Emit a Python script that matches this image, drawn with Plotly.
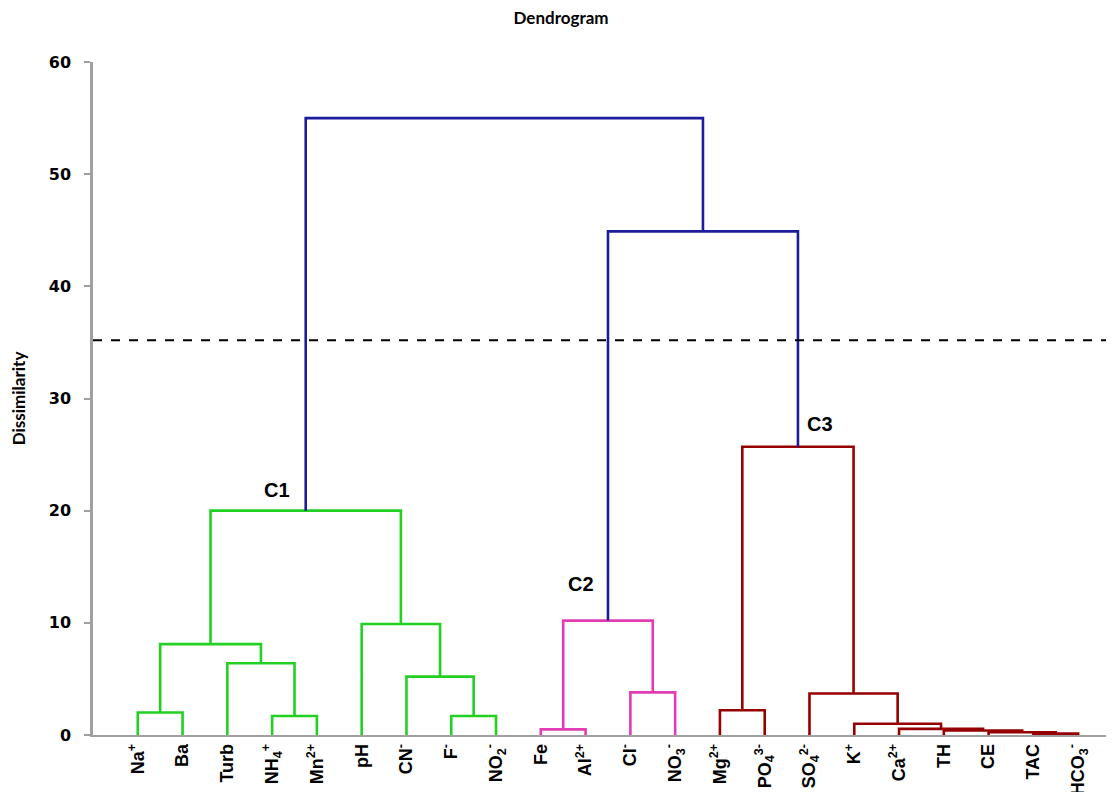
import plotly.graph_objects as go

# leaves, left to right
leaf_labels = ["Na<sup>+</sup>", "Ba", "Turb", "NH<sub>4</sub><sup>+</sup>", "Mn<sup>2+</sup>",
               "pH", "CN<sup>-</sup>", "F<sup>-</sup>", "NO<sub>2</sub><sup>-</sup>",
               "Fe", "Al<sup>2+</sup>", "Cl<sup>-</sup>", "NO<sub>3</sub><sup>-</sup>",
               "Mg<sup>2+</sup>", "PO<sub>4</sub><sup>3-</sup>", "SO<sub>4</sub><sup>2-</sup>",
               "K<sup>+</sup>", "Ca<sup>2+</sup>", "TH", "CE", "TAC", "HCO<sub>3</sub><sup>-</sup>"]

# linkage (scipy style: new node ids start at len(leaf_labels))
merge_left = [20, 19, 18, 9, 17, 16, 3, 7, 0, 13, 15, 11, 6, 2, 30, 5, 25, 36, 31, 38, 39]
merge_right = [21, 22, 23, 10, 24, 26, 4, 8, 1, 14, 27, 12, 29, 28, 35, 34, 33, 37, 32, 40, 41]
merge_height = [0.12, 0.25, 0.4, 0.5, 0.55, 1.0, 1.7, 1.7, 2.0, 2.2, 3.7, 3.8, 5.2, 6.4,
                8.1, 9.9, 10.2, 20.0, 25.7, 44.9, 55.0]

cut_height = 35.2
cluster_names = ["C1", "C2", "C3"]
cluster_colors = ["#22d022", "#e03cb4", "#960000"]
above_cut_color = "#1c1c9c"

n = len(leaf_labels)
pos = {i: float(i) for i in range(n)}
hgt = {i: 0.0 for i in range(n)}
children = {}
for k, (a, b, h) in enumerate(zip(merge_left, merge_right, merge_height)):
    node = n + k
    children[node] = (a, b)
    pos[node] = (pos[a] + pos[b]) / 2
    hgt[node] = h
root = n + len(merge_height) - 1

# find cluster roots below the cut, left to right
cluster_roots = []
def find_roots(node):
    if hgt[node] < cut_height:
        cluster_roots.append(node)
        return
    a, b = children[node]
    find_roots(a)
    find_roots(b)
find_roots(root)

node_color = {}
def paint(node, color):
    if node in children:
        node_color[node] = color
        for c in children[node]:
            paint(c, color)
for i, r in enumerate(cluster_roots):
    paint(r, cluster_colors[i])
for node in children:
    if hgt[node] >= cut_height:
        node_color[node] = above_cut_color

fig = go.Figure()

for color in cluster_colors + [above_cut_color]:
    xs, ys = [], []
    for node, (a, b) in children.items():
        if node_color[node] != color:
            continue
        xs += [pos[a], pos[a], pos[b], pos[b], None]
        ys += [hgt[a], hgt[node], hgt[node], hgt[b], None]
    fig.add_trace(go.Scatter(x=xs, y=ys, mode="lines",
                             line=dict(color=color, width=2.6), hoverinfo="skip",
                             showlegend=False))

# truncation line
fig.add_trace(go.Scatter(x=[-1, n], y=[cut_height, cut_height], mode="lines",
                         line=dict(color="black", width=2, dash="dash"),
                         hoverinfo="skip", showlegend=False))

# cluster labels
label_offsets = [(-0.65, 1.8), (-0.6, 3.3), (0.5, 2.0)]
for name, r, (dx, dy) in zip(cluster_names, cluster_roots, label_offsets):
    fig.add_annotation(x=pos[r] + dx, y=hgt[r] + dy, text="<b>" + name + "</b>",
                       showarrow=False, xanchor="center",
                       font=dict(family="Liberation Sans", size=20, color="black"))

# the page body adds 8px round the figure, so the figure is 8px smaller
fig.update_layout(
    width=1106, height=784,
    margin=dict(l=85, r=0, t=54, b=57),
    plot_bgcolor="white", paper_bgcolor="white",
    title=dict(text="Dendrogram", x=0.5, xanchor="center", y=0.995, yanchor="top",
               automargin=False,
               font=dict(family="Lato", size=17, color="black", weight="bold")),
    xaxis=dict(range=[-1, 21.8], tickmode="array", tickvals=list(range(n)),
               ticktext=leaf_labels, tickangle=-90, showgrid=False, zeroline=False,
               showline=True, linecolor="#a0a0a0", linewidth=1.5, ticks="",
               automargin=False,
               tickfont=dict(family="Liberation Sans", size=18, color="black", weight="bold")),
    yaxis=dict(range=[0, 60], dtick=10, showgrid=False, zeroline=False,
               showline=True, linecolor="#a0a0a0", linewidth=2.5,
               ticks="outside", ticklen=6, tickcolor="#a0a0a0", tickwidth=1.5,
               ticklabelstandoff=10, automargin=False,
               tickfont=dict(family="DejaVu Sans", size=16, color="black", weight="bold"),
               title=dict(text="Dissimilarity", standoff=30,
                          font=dict(family="Lato", size=17, color="black", weight="bold"))),
)

fig.write_html("out.html")
